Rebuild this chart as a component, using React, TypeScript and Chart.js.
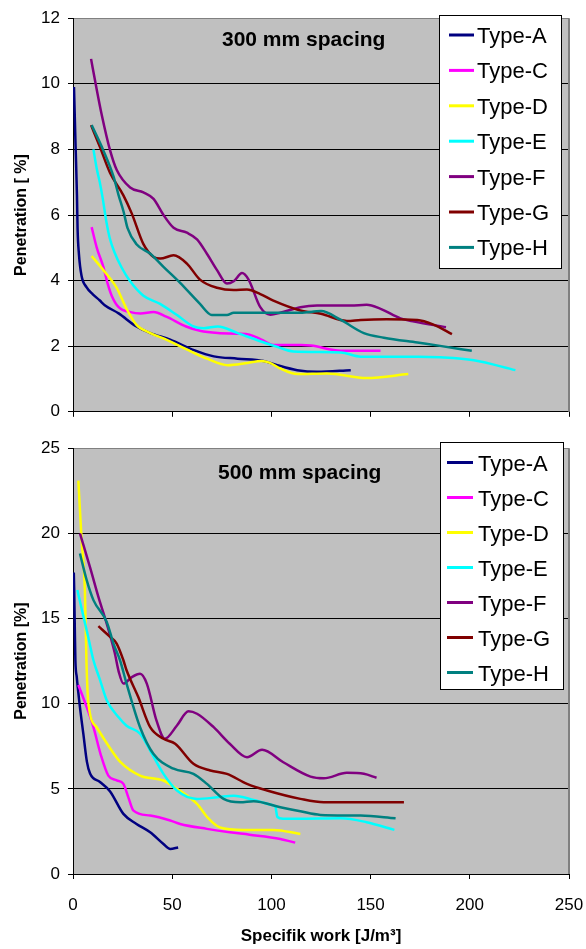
import React, { useEffect, useRef } from "react";
import { Chart, registerables } from "chart.js";

Chart.register(...registerables);

const FONT = "'Liberation Sans', Arial, Helvetica, sans-serif";

const seriesNames = ["Type-A", "Type-C", "Type-D", "Type-E", "Type-F", "Type-G", "Type-H"];
const seriesColors = ["#000080", "#FF00FF", "#FFFF00", "#00FFFF", "#800080", "#800000", "#008080"];

// ---- 300 mm spacing: [specific work, penetration %] ----
const a300 = [[0.5, 9.9], [1.3, 8.1], [2, 6.6], [2.3, 5.6], [3, 4.8], [4.3, 4.15], [6.8, 3.8], [10, 3.58], [13.4, 3.4], [16, 3.25], [23, 3.0], [32, 2.6], [39, 2.4], [49, 2.2], [61, 1.88], [71, 1.69], [83, 1.62], [96, 1.55], [103, 1.42], [113, 1.27], [123, 1.22], [140, 1.27]];
const c300 = [[9.4, 5.63], [12, 5.0], [15.3, 4.42], [17.5, 3.9], [19.5, 3.54], [23, 3.19], [29, 3.04], [34, 3.0], [40.6, 3.04], [47, 2.9], [57, 2.6], [64, 2.47], [73, 2.4], [83, 2.38], [89, 2.35], [95, 2.2], [101, 2.04], [115, 2.04], [120, 2.02], [135, 1.86], [155, 1.86]];
const d300 = [[9.4, 4.75], [15.3, 4.32], [22, 3.78], [27, 3.14], [32, 2.65], [39, 2.4], [47, 2.2], [57, 1.91], [67.5, 1.62], [78, 1.42], [88, 1.49], [95, 1.55], [99, 1.5], [104.5, 1.32], [113, 1.15], [128, 1.17], [148, 1.03], [169, 1.15]];
const e300 = [[10.3, 8.0], [12, 7.4], [13.5, 7.0], [15, 6.5], [16.8, 5.8], [18.5, 5.3], [21, 4.85], [24.5, 4.4], [28.8, 3.98], [35.5, 3.54], [43.9, 3.29], [52.4, 2.95], [60.8, 2.6], [66, 2.55], [73, 2.6], [83, 2.4], [94, 2.16], [103, 1.98], [111, 1.84], [135, 1.81], [145, 1.68], [174, 1.68], [185, 1.66], [202, 1.57], [223, 1.27]];
const f300 = [[9.1, 10.76], [11.6, 9.94], [14.5, 9.05], [18.7, 7.97], [22, 7.38], [28.8, 6.84], [35.5, 6.69], [40.6, 6.49], [45.6, 6.0], [50.7, 5.61], [57.4, 5.46], [62.5, 5.26], [67.5, 4.82], [72.6, 4.32], [77.6, 3.91], [81, 3.98], [85.2, 4.23], [88.5, 4.03], [94.4, 3.19], [99.5, 2.96], [104.5, 3.02], [114.6, 3.19], [123, 3.24], [140, 3.24], [148, 3.26], [155, 3.14], [165, 2.85], [172, 2.75], [188, 2.58]];
const g300 = [[9.1, 8.74], [13.6, 8.07], [18.7, 7.28], [25.4, 6.6], [29.6, 6.05], [35.5, 5.11], [40.6, 4.72], [44, 4.67], [50.7, 4.77], [57.4, 4.52], [64, 4.03], [72.6, 3.78], [81, 3.71], [87.7, 3.73], [94.4, 3.59], [101, 3.39], [114.6, 3.09], [125, 2.99], [138, 2.77], [145, 2.8], [158, 2.82], [173.6, 2.8], [182, 2.65], [191, 2.37]];
const h300 = [[9.4, 8.74], [15.3, 7.97], [20.4, 7.18], [23, 6.6], [25.5, 6.1], [27.5, 5.6], [32, 5.11], [39, 4.82], [45.6, 4.42], [54, 3.93], [64, 3.29], [70, 2.95], [77.6, 2.95], [81, 3.02], [97.8, 3.02], [114.6, 3.02], [125, 3.07], [135, 2.8], [146.6, 2.4], [156.7, 2.26], [173.6, 2.11], [185, 2.01], [201, 1.86]];

// ---- 500 mm spacing ----
const a500 = [[0.4, 17.7], [0.6, 16.7], [0.9, 14.5], [1.2, 12.55], [1.9, 11.56], [3.5, 9.8], [5.2, 8.24], [7, 6.6], [8.6, 5.9], [13.6, 5.4], [18.7, 4.85], [25.4, 3.53], [32, 2.94], [38.9, 2.45], [45.6, 1.76], [49, 1.47], [53, 1.56]];
const c500 = [[2.7, 11.1], [6.9, 9.8], [10.3, 8.62], [14, 7.0], [17.8, 5.78], [22, 5.5], [25.4, 5.29], [27.9, 4.5], [30.5, 3.72], [38.9, 3.43], [49, 3.14], [54, 2.94], [67.5, 2.65], [79, 2.45], [89, 2.31], [104.5, 2.06], [112, 1.84]];
const d500 = [[2.7, 23.1], [4.3, 19.7], [6, 16.6], [6.8, 12.4], [7.7, 10.1], [12, 8.6], [18.6, 7.4], [23.7, 6.6], [33.8, 5.78], [45.6, 5.49], [52.4, 5.0], [62.5, 4.12], [68, 3.3], [74, 2.74], [86, 2.59], [101, 2.59], [114.6, 2.35]];
const e500 = [[2.2, 16.67], [4.5, 15.5], [7.7, 13.9], [10.3, 12.55], [13.6, 11.4], [17, 10.2], [23, 9.2], [27, 8.7], [33.8, 8.24], [38.9, 7.25], [45.6, 5.88], [52.4, 4.9], [62.5, 4.41], [72.6, 4.5], [81, 4.6], [91, 4.35], [101, 4.02], [102, 3.95], [103, 3.35], [106, 3.25], [113, 3.24], [135, 3.27], [148, 3.04], [162, 2.59]];
const f500 = [[3.5, 20.0], [8.6, 18.0], [12.8, 16.27], [17, 14.7], [21, 13.0], [23, 11.9], [25.4, 11.18], [29.6, 11.56], [33.8, 11.76], [37.2, 11.18], [42.1, 9.0], [46.3, 7.94], [52.4, 8.72], [58.2, 9.55], [62.5, 9.41], [70.9, 8.62], [79, 7.65], [87.7, 6.86], [95.3, 7.29], [106, 6.56], [119.7, 5.72], [126.4, 5.62], [138, 5.94], [146.6, 5.88], [153, 5.65]];
const g500 = [[12.8, 14.55], [18.7, 13.92], [22, 13.53], [25.4, 12.55], [27, 11.96], [32.9, 10.39], [38.9, 8.62], [45.6, 7.94], [51.5, 7.65], [60.7, 6.47], [69.2, 6.08], [77.6, 5.88], [87.7, 5.29], [97.8, 4.9], [114.6, 4.41], [126.4, 4.21], [166.8, 4.21]];
const h500 = [[3.5, 18.82], [6.9, 17.25], [10.3, 16.08], [17, 14.8], [20.4, 13.53], [23.7, 12.55], [27, 11.18], [33.8, 8.62], [40.5, 7.06], [50.7, 6.18], [60.7, 5.88], [67.5, 5.29], [75.9, 4.41], [84.3, 4.21], [91, 4.27], [104.5, 3.92], [114.6, 3.68], [124.7, 3.47], [145, 3.43], [162.6, 3.27]];

const series300 = [a300, c300, d300, e300, f300, g300, h300];
const series500 = [a500, c500, d500, e500, f500, g500, h500];

const xTickValues = [0, 50, 100, 150, 200, 250];
const yTicks300 = [0, 2, 4, 6, 8, 10, 12];
const yTicks500 = [0, 5, 10, 15, 20, 25];

const panelPlugin = {
  id: "panel",
  beforeDraw(chart: any) {
    const { ctx, chartArea } = chart;
    const { left, top, right, bottom } = chartArea;
    ctx.save();
    ctx.fillStyle = "#C0C0C0";
    ctx.fillRect(left, top, right - left, bottom - top);
    ctx.restore();
  },
  beforeDatasetsDraw(chart: any) {
    const { ctx, chartArea } = chart;
    const { top, right, bottom } = chartArea;
    ctx.save();
    ctx.strokeStyle = "#808080";
    ctx.lineWidth = 2;
    ctx.beginPath();
    ctx.moveTo(right, top);
    ctx.lineTo(right, bottom);
    ctx.stroke();
    ctx.restore();
  },
  afterDraw(chart: any, _args: any, opts: any) {
    const { ctx } = chart;
    ctx.save();
    ctx.font = `bold 21px ${FONT}`;
    ctx.fillStyle = "#000";
    ctx.textAlign = "left";
    ctx.textBaseline = "middle";
    ctx.fillText(opts.title, opts.titleX, opts.titleY);
    const L = opts.legend;
    ctx.fillStyle = "#FFFFFF";
    ctx.fillRect(L.x, L.y, L.w, L.h);
    ctx.strokeStyle = "#000";
    ctx.lineWidth = 1;
    ctx.strokeRect(L.x + 0.5, L.y + 0.5, L.w, L.h);
    ctx.font = `22px ${FONT}`;
    chart.data.datasets.forEach((ds: any, i: number) => {
      const y = L.first + i * L.step;
      ctx.strokeStyle = ds.borderColor;
      ctx.lineWidth = 3;
      ctx.beginPath();
      ctx.moveTo(L.lineX0, y - 2);
      ctx.lineTo(L.lineX1, y - 2);
      ctx.stroke();
      ctx.fillStyle = "#000";
      ctx.fillText(ds.label, L.textX, y);
    });
    ctx.restore();
  },
};

function buildConfig(p: any): any {
  const datasets = p.series.map((pts: number[][], i: number) => ({
    label: seriesNames[i],
    data: pts.map(([x, y]) => ({ x, y })),
    borderColor: seriesColors[i],
    backgroundColor: seriesColors[i],
    borderWidth: 2.5,
    pointRadius: 0,
    fill: false,
    cubicInterpolationMode: "monotone",
    order: seriesNames.length - i,
  }));
  const yMax = p.yTicks[p.yTicks.length - 1];
  return {
    type: "line",
    data: { datasets },
    plugins: [panelPlugin],
    options: {
      animation: false,
      responsive: false,
      devicePixelRatio: 1,
      layout: { padding: { left: 0, right: 17, top: 17, bottom: 0 } },
      plugins: {
        legend: { display: false },
        tooltip: { enabled: false },
        panel: { title: p.title, titleX: p.titleX, titleY: p.titleY, legend: p.legend },
      },
      scales: {
        x: {
          type: "linear",
          min: 0,
          max: 250,
          afterBuildTicks: (scale: any) => {
            scale.ticks = xTickValues.map((v) => ({ value: v }));
          },
          afterFit: (scale: any) => {
            scale.height = p.xHeight;
            scale.paddingLeft = 0;
            scale.paddingRight = 0;
          },
          grid: { drawOnChartArea: false, drawTicks: true, tickLength: 5, color: "#000", tickColor: "#000" },
          border: { display: true, color: "#000", width: 1 },
          ticks: {
            display: p.showX,
            padding: 16,
            color: "#000",
            font: { family: FONT, size: 17 },
            maxRotation: 0,
          },
          title: {
            display: p.showX,
            text: "Specifik work [J/m³]",
            color: "#000",
            font: { family: FONT, size: 17, weight: "bold" },
            padding: { top: 0, bottom: 2 },
          },
        },
        y: {
          type: "linear",
          min: 0,
          max: yMax,
          afterBuildTicks: (scale: any) => {
            scale.ticks = p.yTicks.map((v: number) => ({ value: v }));
          },
          afterFit: (scale: any) => {
            scale.width = 73;
          },
          grid: {
            drawOnChartArea: true,
            drawTicks: true,
            tickLength: 5,
            tickColor: "#000",
            color: (ctx: any) => (ctx.tick && ctx.tick.value === yMax ? "#808080" : "#000"),
          },
          border: { display: true, color: "#000", width: 1 },
          ticks: { padding: 8, color: "#000", font: { family: FONT, size: 17 } },
          title: {
            display: true,
            text: p.yTitle,
            color: "#000",
            font: { family: FONT, size: 16, weight: "bold" },
            padding: { top: 12, bottom: 0 },
          },
        },
      },
    },
  };
}

function PanelChart({ top, height, panel }: any) {
  const ref = useRef<HTMLCanvasElement | null>(null);
  useEffect(() => {
    const chart = new Chart(ref.current as HTMLCanvasElement, buildConfig(panel));
    return () => chart.destroy();
  }, []);
  return (
    <canvas
      ref={ref}
      width={586}
      height={height}
      style={{ position: "absolute", left: 0, top, width: 586, height, display: "block" }}
    />
  );
}

const panel300 = {
  series: series300,
  yTicks: yTicks300,
  yTitle: "Penetration [ %]",
  title: "300 mm spacing",
  titleX: 222,
  titleY: 40,
  showX: false,
  xHeight: 6,
  legend: { x: 439, y: 15, w: 122, h: 253, first: 37, step: 35.4, lineX0: 449, lineX1: 474, textX: 477 },
};

const panel500 = {
  series: series500,
  yTicks: yTicks500,
  yTitle: "Penetration [%]",
  title: "500 mm spacing",
  titleX: 218,
  titleY: 43,
  showX: true,
  xHeight: 75,
  legend: { x: 440, y: 12, w: 123, h: 247, first: 34.5, step: 35, lineX0: 447, lineX1: 473, textX: 478 },
};

export default function App() {
  return (
    <div style={{ position: "absolute", left: 0, top: 0, width: 586, height: 949, background: "#fff" }}>
      <PanelChart top={0} height={430} panel={panel300} />
      <PanelChart top={430} height={519} panel={panel500} />
    </div>
  );
}
